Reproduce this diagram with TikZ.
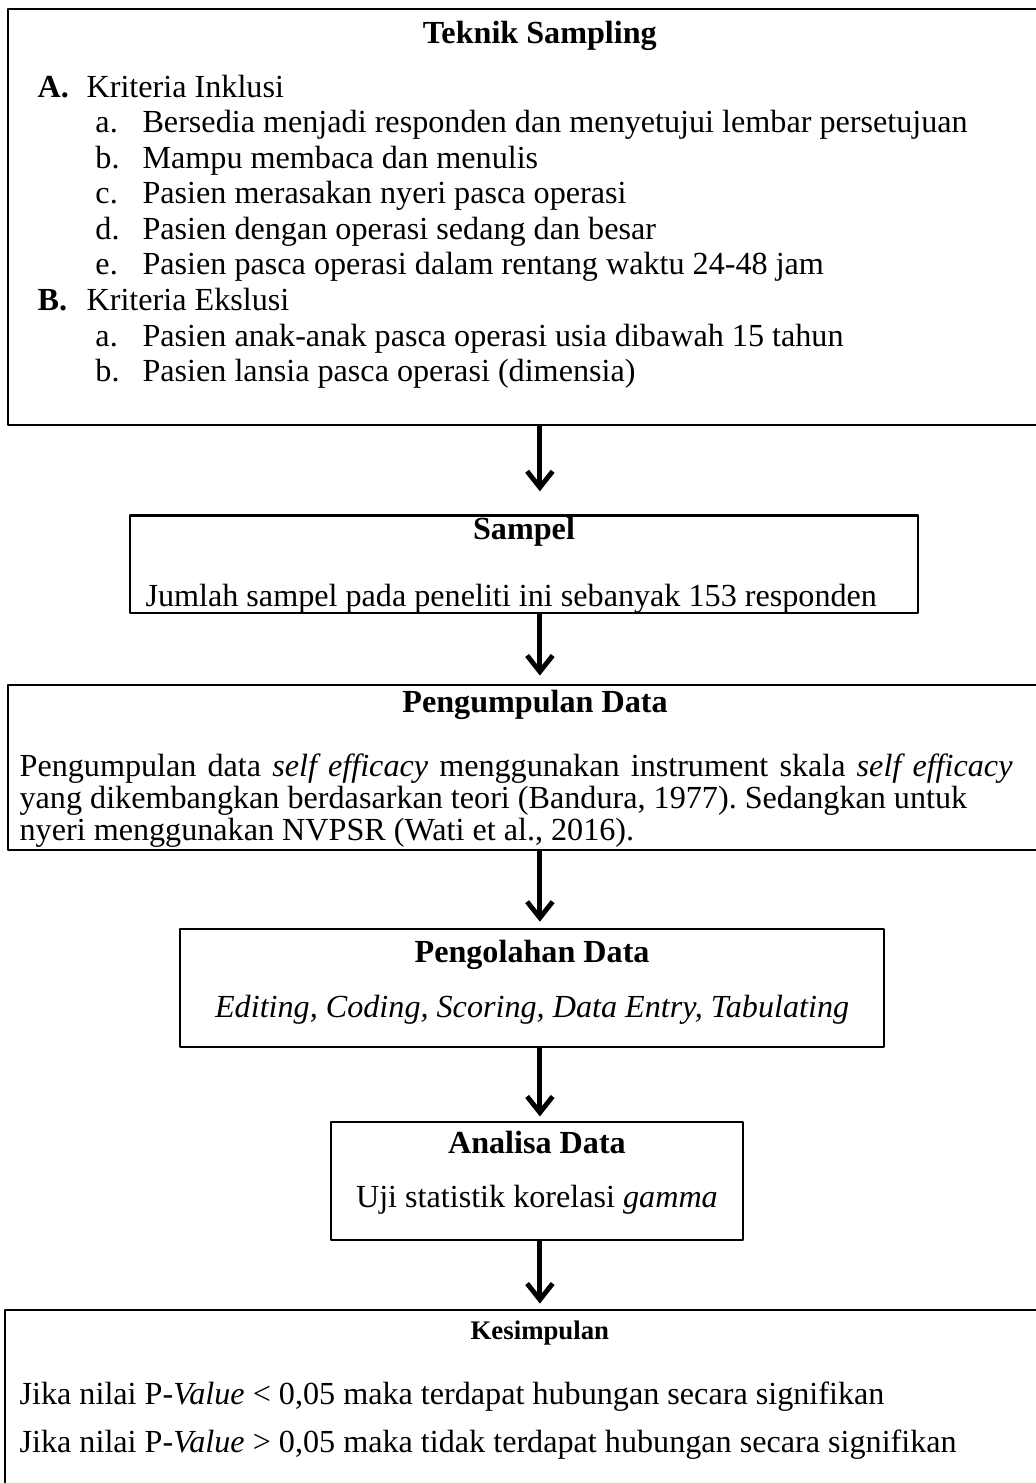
\documentclass[tikz,border=0pt]{standalone}
\usepackage{fontspec}
\setmainfont{Liberation Serif}
\usetikzlibrary{arrows.meta}
\frenchspacing
\begin{document}
\begin{tikzpicture}[>={Straight Barb[length=6bp,width=9.5bp]},line join=bevel,
    font=\fontsize{12}{14}\selectfont,
    box/.style={draw,rectangle,line width=1bp,inner sep=0pt},
    item/.style={anchor=base west,inner sep=0pt},
    head/.style={font=\fontsize{12}{14}\selectfont\bfseries,inner sep=0pt},
    flow/.style={->,line width=1.8bp}]
    %%
    \useasboundingbox (0bp,0bp) rectangle (384.8bp,551.3bp);
    \coordinate (col) at (200.7bp,0bp);
    \node (sampling) at (195.7bp,470.6bp) [box,minimum width=385.5bp,minimum height=154.7bp] {};
    \node (sampel) at (194.8bp,341.5bp) [box,minimum width=292.9bp,minimum height=36.1bp] {};
    \node (kumpul) at (195.7bp,266.0bp) [box,minimum width=385.5bp,minimum height=61.3bp] {};
    \node (olah) at (197.8bp,184.0bp) [box,minimum width=261.7bp,minimum height=43.9bp] {};
    \node (analisa) at (199.6bp,112.3bp) [box,minimum width=153.2bp,minimum height=43.9bp] {};
    \node (simpul) at (195.2bp,29.0bp) [box,minimum width=386.6bp,minimum height=70.6bp] {};
    \node (samplingT) at (200.7bp,537.9bp) [head] {Teknik Sampling};
    \node (inA) at (13.8bp,515.2bp) [item] {\makebox[18.2bp][l]{\bfseries A.}Kriteria Inklusi};
    \node (inA1) at (35.3bp,502.0bp) [item] {\makebox[17.5bp][l]{a.}Bersedia menjadi responden dan menyetujui lembar persetujuan};
    \node (inA2) at (35.3bp,488.8bp) [item] {\makebox[17.5bp][l]{b.}Mampu membaca dan menulis};
    \node (inA3) at (35.3bp,475.5bp) [item] {\makebox[17.5bp][l]{c.}Pasien merasakan nyeri pasca operasi};
    \node (inA4) at (35.3bp,462.3bp) [item] {\makebox[17.5bp][l]{d.}Pasien dengan operasi sedang dan besar};
    \node (inA5) at (35.3bp,449.1bp) [item] {\makebox[17.5bp][l]{e.}Pasien pasca operasi dalam rentang waktu 24-48 jam};
    \node (exB) at (13.8bp,435.8bp) [item] {\makebox[18.2bp][l]{\bfseries B.}Kriteria Ekslusi};
    \node (exB1) at (35.3bp,422.6bp) [item] {\makebox[17.5bp][l]{a.}Pasien anak-anak pasca operasi usia dibawah 15 tahun};
    \node (exB2) at (35.3bp,409.4bp) [item] {\makebox[17.5bp][l]{b.}Pasien lansia pasca operasi (dimensia)};
    \node (sampelT) at (194.8bp,353.5bp) [head] {Sampel};
    \node (sampelB) at (53.9bp,326.0bp) [item] {Jumlah sampel pada peneliti ini sebanyak 153 responden};
    \node (kumpulT) at (198.9bp,289.2bp) [head] {Pengumpulan Data};
    \node (kumpulB1) at (7.1bp,262.5bp) [item] {\makebox[369.1bp][s]{Pengumpulan data \textit{self efficacy} menggunakan instrument skala \textit{self efficacy}}};
    \node (kumpulB2) at (7.1bp,250.6bp) [item] {yang dikembangkan berdasarkan teori (Bandura, 1977). Sedangkan untuk};
    \node (kumpulB3) at (7.1bp,238.7bp) [item] {nyeri menggunakan NVPSR (Wati et al., 2016).};
    \node (olahT) at (197.8bp,196.3bp) [head] {Pengolahan Data};
    \node (olahB) at (197.8bp,175.8bp) [inner sep=0pt] {\textit{Editing, Coding, Scoring, Data Entry, Tabulating}};
    \node (analisaT) at (199.6bp,126.4bp) [head] {Analisa Data};
    \node (analisaB) at (199.6bp,105.2bp) [inner sep=0pt] {Uji statistik korelasi \textit{gamma}};
    \node (simpulT) at (200.7bp,55.8bp) [head,font=\fontsize{10}{12}\selectfont\bfseries] {Kesimpulan};
    \node (simpulB1) at (7.1bp,29.0bp) [item] {Jika nilai P-\textit{Value} < 0,05 maka terdapat hubungan secara signifikan};
    \node (simpulB2) at (7.1bp,11.5bp) [item] {Jika nilai P-\textit{Value} > 0,05 maka tidak terdapat hubungan secara signifikan};
    \draw [flow,shorten >=8.6bp] (sampling.south -| col) -- (sampel.north -| col);
    \draw [flow,shorten >=3bp] (sampel.south -| col) -- (kumpul.north -| col);
    \draw [flow,shorten >=2.2bp] (kumpul.south -| col) -- (olah.north -| col);
    \draw [flow,shorten >=1.5bp] (olah.south -| col) -- (analisa.north -| col);
    \draw [flow,shorten >=1.9bp] (analisa.south -| col) -- (simpul.north -| col);
    %
\end{tikzpicture}
\end{document}
